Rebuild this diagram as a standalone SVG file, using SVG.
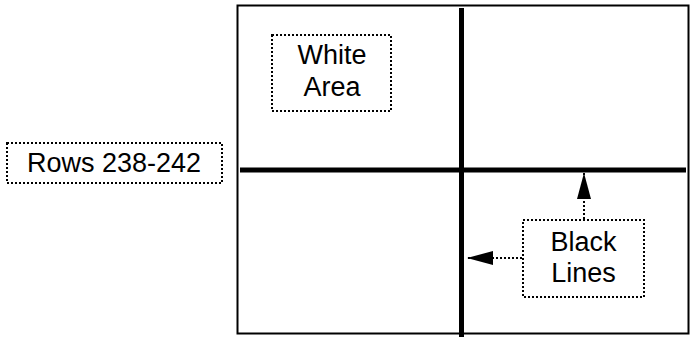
<svg xmlns="http://www.w3.org/2000/svg" width="691" height="338" viewBox="0 0 691 338">
<style>
.lbl{fill:none;stroke:#000;stroke-width:2;stroke-dasharray:2 2}
.t{font-family:"Liberation Sans",Arial,sans-serif;font-size:27px;fill:#000;text-anchor:middle}
.thick{stroke:#000;stroke-width:5;fill:none}
.ptr{stroke:#000;stroke-width:2;stroke-dasharray:2 2;fill:none}
</style>
<defs>
<marker id="ah" markerWidth="26" markerHeight="14" refX="26" refY="7" orient="auto" markerUnits="userSpaceOnUse">
<path d="M0,0 L26,7 L0,14 Z" fill="#000"/>
</marker>
</defs>
<rect width="691" height="338" fill="#fff"/>
<g id="frame">
<rect x="237.5" y="5.5" width="451" height="328" fill="none" stroke="#000" stroke-width="2"/>
</g>
<g id="lines">
<line class="thick" x1="461.5" y1="8" x2="461.5" y2="337"/>
<line class="thick" x1="240" y1="170" x2="686" y2="170"/>
</g>
<g id="white-area">
<rect class="lbl" x="272" y="35" width="119" height="76"/>
<text class="t" x="332" y="63.5">White</text>
<text class="t" x="332" y="95.5">Area</text>
</g>
<g id="rows">
<rect class="lbl" x="7" y="143" width="215" height="40"/>
<text class="t" x="114" y="172">Rows 238-242</text>
</g>
<g id="black-lines">
<rect class="lbl" x="523" y="220" width="121" height="77"/>
<text class="t" x="583.5" y="251">Black</text>
<text class="t" x="583.5" y="282">Lines</text>
</g>
<g id="connectors">
<line class="ptr" x1="584" y1="219" x2="584" y2="173" marker-end="url(#ah)"/>
<line class="ptr" x1="522" y1="258" x2="467" y2="258" marker-end="url(#ah)"/>
</g>
</svg>
